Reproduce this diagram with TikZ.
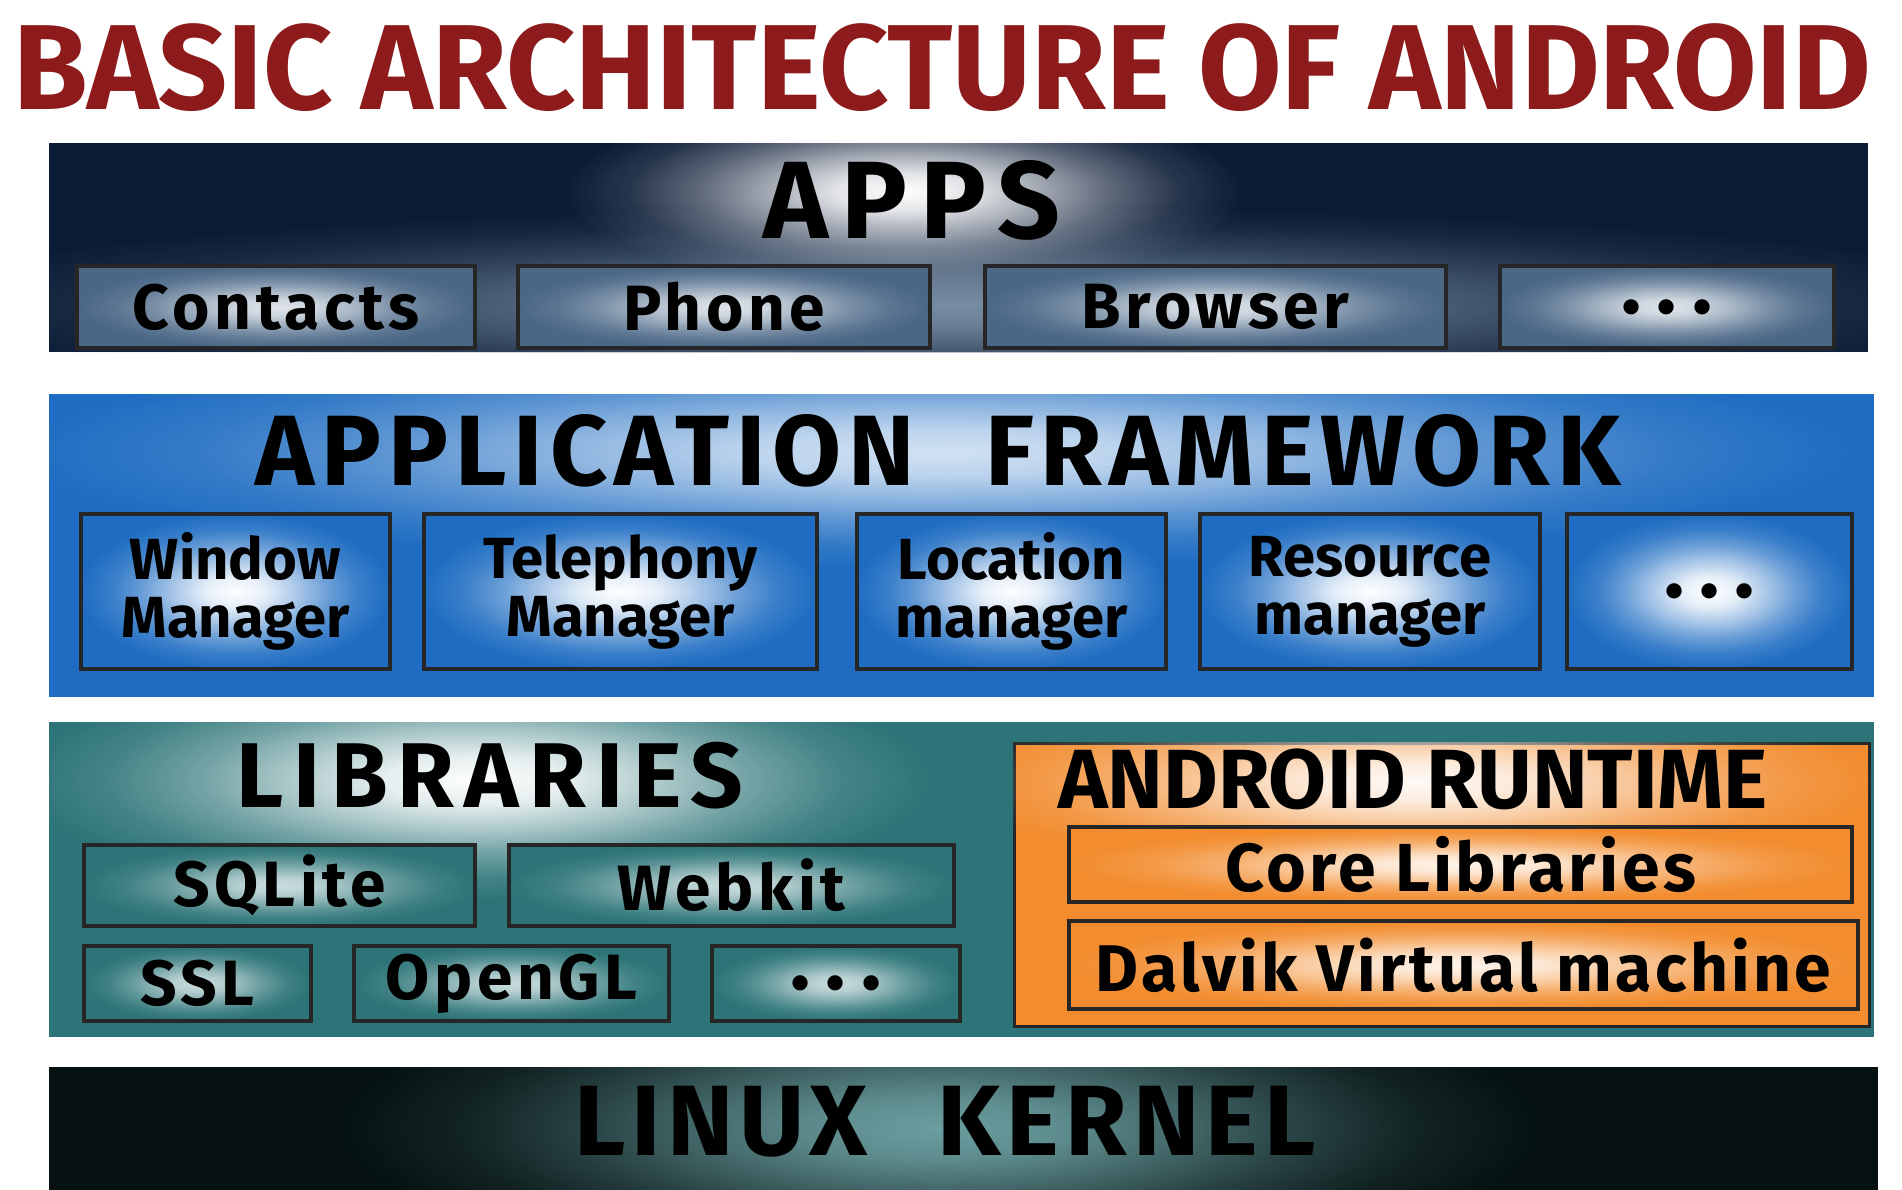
\documentclass[tikz,border=0pt]{standalone}
\usepackage{fontspec}
\setmainfont{Fira Sans}
\usetikzlibrary{fadings}

\definecolor{titlered}{HTML}{8E1B1B}
\definecolor{appsnavy}{HTML}{0B1B35}
\definecolor{appsbox}{HTML}{4A6786}
\definecolor{fwblue}{HTML}{1F6DC2}
\definecolor{libteal}{HTML}{2C7477}
\definecolor{rtorange}{HTML}{F28C2E}
\definecolor{kernelblack}{HTML}{061212}
\colorlet{glowin}{white}
\colorlet{glowout}{black}

% soft radial glow for the boxes
\pgfdeclareradialshading[glowin,glowout]{softglow}{\pgfpointorigin}{%
  color(0bp)=(glowin); color(5bp)=(glowin!88!glowout); color(10bp)=(glowin!62!glowout);
  color(15bp)=(glowin!34!glowout); color(20bp)=(glowin!12!glowout);
  color(25bp)=(glowout); color(50bp)=(glowout)}
% same profile as a fading, for the halos behind the headings
\pgfdeclareradialshading{softfadeshade}{\pgfpointorigin}{%
  color(0bp)=(white); color(5bp)=(white!88!black); color(10bp)=(white!62!black);
  color(15bp)=(white!34!black); color(20bp)=(white!12!black);
  color(25bp)=(black); color(50bp)=(black)}
\pgfdeclarefading{softfade}{\pgfuseshading{softfadeshade}}

\newcommand\txtsize[1]{\fontsize{#1}{#1}\selectfont}

\begin{document}
\begin{tikzpicture}[x=1pt,y=-1pt,
  band/.style 2 args={anchor=north west,inner sep=0pt,minimum width=#1pt,minimum height=#2pt},
  glow/.style 2 args={/utils/exec={\colorlet{glowin}{#1}\colorlet{glowout}{#2}},shading=softglow},
  halo/.style={fill=#1,path fading=softfade},
  box/.style 2 args={band={#1}{#2},draw=black!85,line width=4pt,align=center,
    font=\bfseries\txtsize{64}\addfontfeatures{LetterSpace=7}},
  appbox/.style={glow={appsbox!18!white}{appsbox}},
  fwbox/.style={glow={white}{fwblue}},
  libbox/.style={glow={libteal!25!white}{libteal}},
  rtbox/.style={glow={rtorange!10!white}{rtorange}},
  more/.style={font=\bfseries\txtsize{84}},
  head/.style 2 args={font=\bfseries\txtsize{#1}\addfontfeatures{LetterSpace=#2}}]
  \useasboundingbox[fill=white] (0,0) rectangle (1902,1190);

  \node[head={121}{0},text=titlered] (title) at (942,68) {BASIC ARCHITECTURE OF ANDROID};

  % apps
  \node[band={1819}{209},fill=appsnavy] (apps) at (49,143) {};
  \begin{scope}
    \clip (apps.north west) rectangle (apps.south east);
    \begin{scope}[transform canvas={shift={(958,305)},xscale=11}]
      \fill[halo=appsbox!75!white] (0,0) circle (100);
    \end{scope}
    \begin{scope}[transform canvas={shift={(904,192)},xscale=3.6}]
      \fill[halo=white] (0,0) circle (95);
    \end{scope}
  \end{scope}
  \node[head={110}{12}] (appshead) at (912,200) {APPS};
  \node[box={398}{82},appbox] (contacts) at (75,264) {Contacts};
  \node[box={412}{82},appbox] (phone) at (516,264) {Phone};
  \node[box={461}{82},appbox] (browser) at (983,264) {Browser};
  \node[box={334}{82},appbox,more] (appmore) at (1498,264) {.\hspace{0.18em}.\hspace{0.18em}.};

  % application framework
  \node[band={1825}{303},fill=fwblue] (fw) at (49,394) {};
  \begin{scope}
    \clip (fw.north west) rectangle (fw.south east);
    \begin{scope}[transform canvas={shift={(934,452)},xscale=8}]
      \fill[halo=fwblue!20!white] (0,0) circle (115);
    \end{scope}
  \end{scope}
  \node[head={100}{7}] (fwhead) at (938,451) {APPLICATION\hspace{0.7em}FRAMEWORK};
  \node[box={309}{155},fwbox,font=\bfseries\txtsize{58}] (window) at (79,512) {Window\\Manager};
  \node[box={393}{155},fwbox,font=\bfseries\txtsize{58}] (telephony) at (422,512) {Telephony\\Manager};
  \node[box={309}{155},fwbox,font=\bfseries\txtsize{58}] (location) at (855,512) {Location\\manager};
  \node[box={340}{155},fwbox,font=\bfseries\txtsize{58}] (resource) at (1198,512) {Resource\\manager};
  \node[box={285}{155},fwbox,more] (fwmore) at (1565,512) {.\hspace{0.18em}.\hspace{0.18em}.};

  % libraries
  \node[band={1825}{315},fill=libteal] (libs) at (49,722) {};
  \begin{scope}
    \clip (libs.north west) rectangle (libs.south east);
    \begin{scope}[transform canvas={shift={(475,780)},xscale=3.8}]
      \fill[halo=white] (0,0) circle (120);
    \end{scope}
  \end{scope}
  \node[head={92}{11}] (libshead) at (490,776) {LIBRARIES};
  \node[box={391}{81},libbox] (sqlite) at (82,843) {SQLite};
  \node[box={445}{81},libbox] (webkit) at (507,843) {Webkit};
  \node[box={227}{75},libbox] (ssl) at (82,944) {SSL};
  \node[box={315}{75},libbox] (opengl) at (352,944) {OpenGL};
  \node[box={248}{75},libbox,more] (libmore) at (710,944) {.\hspace{0.18em}.\hspace{0.18em}.};

  % android runtime
  \node[band={855}{283},fill=rtorange,draw=black!85,line width=3pt] (rt) at (1013,742) {};
  \begin{scope}
    \clip (rt.north west) rectangle (rt.south east);
    \begin{scope}[transform canvas={shift={(1413,782)},xscale=5.2}]
      \fill[halo=rtorange!4!white] (0,0) circle (90);
    \end{scope}
  \end{scope}
  \node[head={84}{0}] (rthead) at (1413,779) {ANDROID RUNTIME};
  \node[box={783}{75},rtbox,font=\bfseries\txtsize{68}\addfontfeatures{LetterSpace=5}] (core) at (1067,825) {Core Libraries};
  \node[box={789}{88},rtbox,font=\bfseries\txtsize{66}\addfontfeatures{LetterSpace=5}] (dalvik) at (1067,919) {Dalvik Virtual machine};

  % linux kernel
  \node[band={1829}{123},fill=kernelblack] (kernel) at (49,1067) {};
  \begin{scope}
    \clip (kernel.north west) rectangle (kernel.south east);
    \begin{scope}[transform canvas={shift={(940,1128)},xscale=4}]
      \fill[halo=libteal!70!white] (0,0) circle (150);
    \end{scope}
  \end{scope}
  \node[head={100}{6}] (kernelhead) at (945,1122) {LINUX\hspace{0.7em}KERNEL};
\end{tikzpicture}
\end{document}
